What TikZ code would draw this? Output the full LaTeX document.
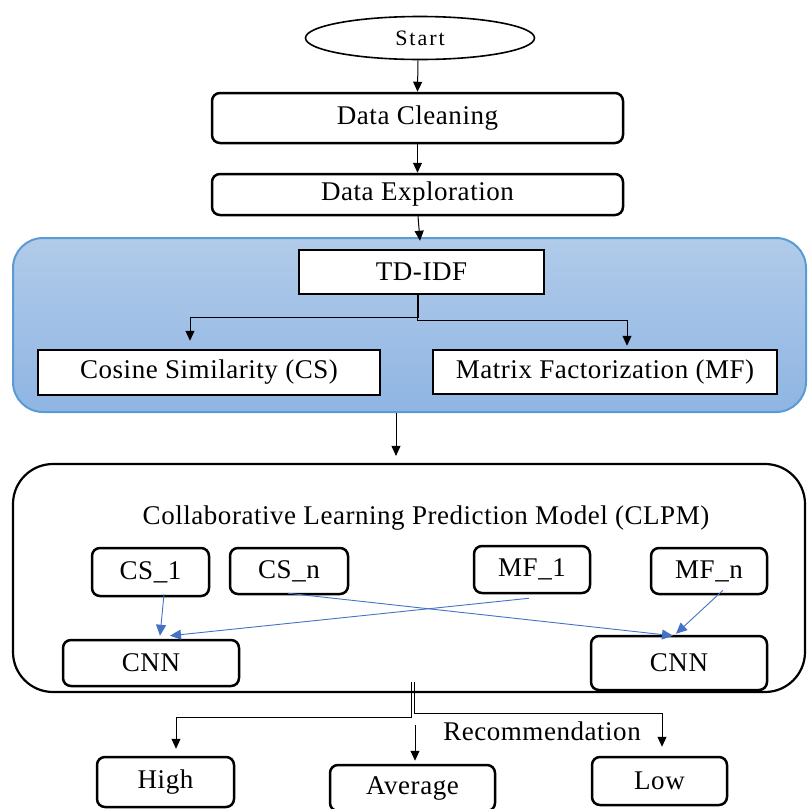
\documentclass[tikz,border=0pt]{standalone}
\usepackage{fontspec}
\setmainfont{Liberation Serif}[LetterSpace=2]
\usetikzlibrary{shapes.geometric,arrows.meta}
\definecolor{linkblue}{RGB}{68,114,196}
\definecolor{panelline}{RGB}{91,155,213}
\definecolor{paneltop}{RGB}{177,203,233}
\definecolor{panelbot}{RGB}{143,181,227}
\begin{document}
\begin{tikzpicture}[x=1pt,y=-1pt,
  every node/.style={font=\fontsize{27}{32}\selectfont, inner sep=0pt},
  roundbox/.style={draw, fill=white, line width=2.5pt, rounded corners=8pt},
  sharpbox/.style={draw, fill=white, line width=2.5pt},
  arr/.style={line width=1pt, -{Triangle[length=10pt,width=9pt]}},
  blarr/.style={draw=linkblue, line width=0.9pt, -{Triangle[length=11pt,width=10pt]}, linkblue},
]
\useasboundingbox (0,0) rectangle (807,809);

% top of the flow
\node[draw, ellipse, line width=1.6pt, minimum width=229pt, minimum height=43pt,
      font=\fontsize{22}{26}\selectfont\addfontfeatures{LetterSpace=9}] (start) at (420,38) {Start};
\node[roundbox, minimum width=411pt, minimum height=50pt] (clean) at (417.5,118) {Data Cleaning};
\node[roundbox, minimum width=411pt, minimum height=41pt] (explore) at (417.5,194.5) {Data Exploration};

% feature extraction panel
\node[draw=panelline, line width=2pt, rounded corners=30pt, top color=paneltop, bottom color=panelbot,
      minimum width=793pt, minimum height=174pt] (panel) at (409.5,325) {};
\node[sharpbox, minimum width=245pt, minimum height=44pt] (tdidf) at (421.5,272) {TD-IDF};
\node[sharpbox, minimum width=342pt, minimum height=45pt] (cs) at (209,372.5) {Cosine Similarity (CS)};
\node[sharpbox, minimum width=344pt, minimum height=44pt] (mf) at (605,372) {Matrix Factorization (MF)};

% prediction model
\node[draw, line width=2.2pt, rounded corners=40pt, minimum width=792pt, minimum height=228pt] (clpm) at (409,578) {};
\node[anchor=base] (clpmtitle) at (426,524) {Collaborative Learning Prediction Model (CLPM)};
\node[roundbox, minimum width=117pt, minimum height=48pt] (cs1) at (150.5,572) {CS\_1};
\node[roundbox, minimum width=118pt, minimum height=46pt] (csn) at (289,571) {CS\_n};
\node[roundbox, minimum width=116pt, minimum height=47pt] (mf1) at (532,569.5) {MF\_1};
\node[roundbox, minimum width=116pt, minimum height=46pt] (mfn) at (709,571) {MF\_n};
\node[roundbox, minimum width=176pt, minimum height=46pt] (cnnl) at (151,663) {CNN};
\node[roundbox, minimum width=176pt, minimum height=54pt] (cnnr) at (679,663) {CNN};

% recommendation levels
\node[roundbox, minimum width=137pt, minimum height=50pt] (high) at (165.5,782) {High};
\node[roundbox, minimum width=165pt, minimum height=46pt] (avg) at (412.5,788) {Average};
\node[roundbox, minimum width=135pt, minimum height=48pt] (low) at (659.5,781) {Low};
\node (rec) at (542,731) {Recommendation};

% black connectors
\draw[arr] ([xshift=-2pt]start.south) -- (clean.north);
\draw[arr] (clean.south) -- (explore.north);
\draw[arr] ([xshift=0.5pt]explore.south) -- ([xshift=-1.5pt,yshift=8pt]tdidf.north);
\draw[arr] ([xshift=-3.5pt]tdidf.south) -- ++(0,22) -| ([xshift=-19pt,yshift=8pt]cs.north);
\draw[arr] ([xshift=-4.5pt]tdidf.south) -- ++(0,25) -| ([xshift=22pt,yshift=3pt]mf.north);
\draw[arr] ([xshift=-13.5pt]panel.south) -- ([xshift=-13pt,yshift=7pt]clpm.north);

% blue connectors between the sub-models and the networks
\draw[blarr] ([xshift=13.5pt,yshift=3pt]cs1.south) -- ([xshift=9pt,yshift=3pt]cnnl.north);
\draw[blarr] ([xshift=-3pt,yshift=-4pt]mf1.south) -- ([xshift=19pt,yshift=3pt]cnnl.north);
\draw[blarr] ([xshift=-1pt,yshift=2pt]csn.south) -- ([xshift=-6pt,yshift=-1pt]cnnr.north);
\draw[blarr] ([xshift=14pt,yshift=5pt]mfn.south) -- ([xshift=-3pt,yshift=1pt]cnnr.north);

% split into the three recommendation levels
\coordinate (split) at (413,682);
\coordinate (midtop) at (415,725);
\draw[arr] ([xshift=-1.5pt]split) -- ++(0,35) -| ([xshift=10.5pt,yshift=7pt]high.north);
\draw[arr] ([xshift=1.5pt]split) -- ++(0,31) -| ([xshift=2.5pt,yshift=9pt]low.north);
\draw[arr] (midtop) -- ([xshift=2.5pt,yshift=3pt]avg.north);
\end{tikzpicture}
\end{document}
